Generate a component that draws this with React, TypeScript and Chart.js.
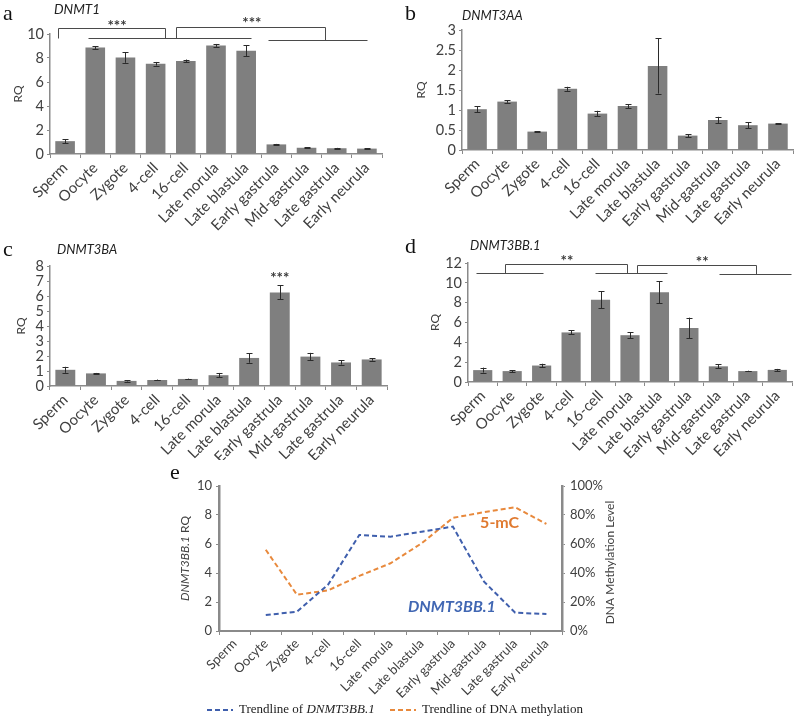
import React, { useEffect, useRef } from "react";
import { Chart, registerables } from "chart.js";
Chart.register(...registerables);

// ---------- data ----------
const stages = [
  "Sperm", "Oocyte", "Zygote", "4-cell", "16-cell", "Late morula",
  "Late blastula", "Early gastrula", "Mid-gastrula", "Late gastrula", "Early neurula",
];

const dnmt1Values = [1.07, 8.88, 8.05, 7.52, 7.75, 9.05, 8.6, 0.8, 0.52, 0.48, 0.45];
const dnmt1Errors = [0.18, 0.12, 0.45, 0.15, 0.12, 0.12, 0.45, 0.04, 0.05, 0.03, 0.02];

const dnmt3aaValues = [1.02, 1.21, 0.46, 1.53, 0.91, 1.1, 2.1, 0.36, 0.75, 0.62, 0.66];
const dnmt3aaErrors = [0.07, 0.03, 0.01, 0.05, 0.07, 0.05, 0.69, 0.04, 0.08, 0.08, 0.01];

const dnmt3baValues = [1.08, 0.84, 0.34, 0.4, 0.47, 0.72, 1.87, 6.24, 1.96, 1.57, 1.77];
const dnmt3baErrors = [0.2, 0.03, 0.04, 0.03, 0.02, 0.15, 0.32, 0.47, 0.25, 0.14, 0.08];

const dnmt3bb1Values = [1.2, 1.1, 1.66, 5.0, 8.3, 4.72, 9.05, 5.44, 1.58, 1.1, 1.22];
const dnmt3bb1Errors = [0.25, 0.1, 0.18, 0.2, 0.85, 0.28, 1.1, 1.05, 0.2, 0.04, 0.1];

const trendDnmt3bb1 = [null, 1.1, 1.33, 3.2, 6.62, 6.5, 6.85, 7.2, 3.4, 1.26, 1.17];
const trendMethylation = [null, 0.56, 0.25, 0.28, 0.38, 0.467, 0.605, 0.78, 0.82, 0.853, 0.738];

// ---------- styles ----------
const FONT = "Lato, 'Noto Sans', sans-serif";
const SERIF = "'Liberation Serif', 'DejaVu Serif', serif";
const AXIS = "#8a8a8a";
const TXT = "#404040";
const BAR = "#7f7f7f";
const BLUE = "#3F5FAD";
const ORANGE = "#E8893C";

type Seg = { x1: number; x2: number; y: number };
type Bracket = { left: number; right: number; top: number; leftBottom: number; rightBottom: number };
type Star = { x: number; y: number; text: string };

const crisp = (v: number) => Math.round(v) + 0.5;
const fmt = (v: any) => `${+Number(v).toFixed(2)}`;

function errorBarPlugin(errors: number[]) {
  return {
    id: "errbars",
    afterDatasetsDraw(chart: any) {
      const meta = chart.getDatasetMeta(0);
      const ys = chart.scales.y;
      const vals = chart.data.datasets[0].data as number[];
      const ctx = chart.ctx;
      ctx.save();
      ctx.strokeStyle = "#2b2b2b";
      ctx.lineWidth = 1;
      meta.data.forEach((el: any, i: number) => {
        const x = crisp(el.x);
        const top = ys.getPixelForValue(vals[i] + errors[i]);
        const bot = ys.getPixelForValue(Math.max(0, vals[i] - errors[i]));
        ctx.beginPath();
        ctx.moveTo(x, top);
        ctx.lineTo(x, bot);
        ctx.moveTo(x - 3, crisp(top));
        ctx.lineTo(x + 3, crisp(top));
        ctx.moveTo(x - 3, crisp(bot));
        ctx.lineTo(x + 3, crisp(bot));
        ctx.stroke();
      });
      ctx.restore();
    },
  };
}

function annotationPlugin(lines: Seg[], brackets: Bracket[], stars: Star[]) {
  return {
    id: "annot",
    afterDraw(chart: any) {
      const xs = chart.scales.x;
      const ys = chart.scales.y;
      const ctx = chart.ctx;
      const px = (v: number) => crisp(xs.getPixelForValue(v));
      const py = (v: number) => crisp(ys.getPixelForValue(v));
      ctx.save();
      ctx.strokeStyle = "#4a4a4a";
      ctx.lineWidth = 1;
      ctx.beginPath();
      lines.forEach((s) => {
        ctx.moveTo(px(s.x1), py(s.y));
        ctx.lineTo(px(s.x2), py(s.y));
      });
      brackets.forEach((b) => {
        ctx.moveTo(px(b.left), py(b.leftBottom));
        ctx.lineTo(px(b.left), py(b.top));
        ctx.lineTo(px(b.right), py(b.top));
        ctx.lineTo(px(b.right), py(b.rightBottom));
      });
      ctx.stroke();
      ctx.fillStyle = "#3a3a3a";
      ctx.font = `bold 15px ${FONT}`;
      ctx.textAlign = "center";
      ctx.textBaseline = "middle";
      stars.forEach((s) => {
        ctx.fillText(s.text, xs.getPixelForValue(s.x), ys.getPixelForValue(s.y) + 3);
      });
      ctx.restore();
    },
  };
}

type BarCfg = {
  width: number; height: number;
  left: number; top: number; right: number; bottom: number;
  yMax: number; yStep: number; titlePad: number;
};

function makeBarChart(
  canvas: HTMLCanvasElement, values: number[], errors: number[], cfg: BarCfg,
  lines: Seg[], brackets: Bracket[], stars: Star[],
) {
  return new Chart(canvas, {
    type: "bar",
    data: {
      labels: stages,
      datasets: [{
        data: values, backgroundColor: BAR, borderWidth: 0,
        barPercentage: 1, categoryPercentage: 0.65,
      }],
    },
    options: {
      responsive: false, maintainAspectRatio: false, animation: false,
      layout: { padding: { top: cfg.top, right: cfg.width - cfg.right, left: 0, bottom: 0 } },
      plugins: { legend: { display: false }, tooltip: { enabled: false } },
      scales: {
        x: {
          type: "category", offset: true,
          grid: { display: true, drawOnChartArea: false, drawTicks: true, tickLength: 4, color: AXIS, offset: true, lineWidth: 1 },
          border: { display: true, color: AXIS, width: 1.5 },
          ticks: { autoSkip: false, minRotation: 45, maxRotation: 45, padding: 1, color: TXT, font: { family: FONT, size: 15 } },
          afterFit: (s: any) => { s.height = cfg.height - cfg.bottom; },
        },
        y: {
          min: 0, max: cfg.yMax,
          ticks: { stepSize: cfg.yStep, autoSkip: false, padding: 3, color: TXT, font: { family: FONT, size: 14.5 }, callback: fmt },
          grid: { display: true, drawOnChartArea: false, drawTicks: true, tickLength: 3, color: AXIS },
          border: { display: true, color: AXIS, width: 1.5 },
          title: { display: true, text: "RQ", color: TXT, font: { family: FONT, size: 12 }, padding: { top: cfg.titlePad, bottom: 0 } },
          afterFit: (s: any) => { s.width = cfg.left; },
        },
      },
    } as any,
    plugins: [errorBarPlugin(errors), annotationPlugin(lines, brackets, stars)],
  });
}

const panelEPlugin = {
  id: "panelE",
  afterDraw(chart: any) {
    const ctx = chart.ctx;
    const xs = chart.scales.x;
    const ys = chart.scales.y;
    const ca = chart.chartArea;
    ctx.save();
    // in-chart labels
    ctx.textAlign = "center";
    ctx.textBaseline = "middle";
    ctx.fillStyle = "#E07A30";
    ctx.font = `bold 16px ${FONT}`;
    ctx.fillText("5-mC", xs.getPixelForValue(8.5), ys.getPixelForValue(7.45));
    ctx.fillStyle = "#4167B3";
    ctx.font = `italic bold 16px ${FONT}`;
    ctx.fillText("DNMT3BB.1", xs.getPixelForValue(6.97), ys.getPixelForValue(1.65));

    // left axis title (mixed style), reading bottom-to-top
    const cy = (ca.top + ca.bottom) / 2;
    ctx.save();
    ctx.translate(35, cy);
    ctx.rotate(-Math.PI / 2);
    ctx.fillStyle = TXT;
    ctx.textBaseline = "middle";
    const p1 = "DNMT3BB.1";
    const p2 = " RQ";
    ctx.font = `italic 12px ${FONT}`;
    const w1 = ctx.measureText(p1).width;
    ctx.font = `12px ${FONT}`;
    const w2 = ctx.measureText(p2).width;
    ctx.textAlign = "left";
    ctx.font = `italic 12px ${FONT}`;
    ctx.fillText(p1, -(w1 + w2) / 2, 0);
    ctx.font = `12px ${FONT}`;
    ctx.fillText(p2, -(w1 + w2) / 2 + w1, 0);
    ctx.restore();

    // right axis title, reading bottom-to-top
    ctx.save();
    ctx.translate(460, cy + 4);
    ctx.rotate(-Math.PI / 2);
    ctx.fillStyle = TXT;
    ctx.textAlign = "center";
    ctx.textBaseline = "middle";
    ctx.font = `12px ${FONT}`;
    ctx.fillText("DNA Methylation Level", 0, 0);
    ctx.restore();

    // legend
    const ly = 250;
    const drawItem = (x: number, color: string, parts: { t: string; italic: boolean }[]) => {
      ctx.strokeStyle = color;
      ctx.lineWidth = 2;
      ctx.setLineDash([5, 3]);
      ctx.beginPath();
      ctx.moveTo(x, ly);
      ctx.lineTo(x + 26, ly);
      ctx.stroke();
      ctx.setLineDash([]);
      let tx = x + 32;
      ctx.fillStyle = "#222";
      ctx.textAlign = "left";
      ctx.textBaseline = "middle";
      parts.forEach((p) => {
        ctx.font = `${p.italic ? "italic " : ""}13px ${SERIF}`;
        ctx.fillText(p.t, tx, ly);
        tx += ctx.measureText(p.t).width;
      });
    };
    drawItem(57, BLUE, [{ t: "Trendline of ", italic: false }, { t: "DNMT3BB.1", italic: true }]);
    drawItem(240, ORANGE, [{ t: "Trendline of DNA methylation", italic: false }]);
    ctx.restore();
  },
};

function makeLineChart(canvas: HTMLCanvasElement) {
  const W = 500, H = 257, L = 69, T = 26, R = 412, B = 171;
  return new Chart(canvas, {
    type: "line",
    data: {
      labels: stages,
      datasets: [
        { label: "Trendline of DNMT3BB.1", data: trendDnmt3bb1, yAxisID: "y", borderColor: BLUE, borderDash: [5, 3], borderWidth: 2, pointRadius: 0, fill: false, tension: 0 },
        { label: "Trendline of DNA methylation", data: trendMethylation, yAxisID: "y1", borderColor: ORANGE, borderDash: [5, 3], borderWidth: 2, pointRadius: 0, fill: false, tension: 0 },
      ],
    },
    options: {
      responsive: false, maintainAspectRatio: false, animation: false,
      layout: { padding: { top: T, right: 0, left: 0, bottom: 0 } },
      plugins: { legend: { display: false }, tooltip: { enabled: false } },
      scales: {
        x: {
          type: "category", offset: true,
          grid: { display: true, drawOnChartArea: false, drawTicks: true, tickLength: 4, color: AXIS, offset: true },
          border: { display: true, color: AXIS, width: 2 },
          ticks: { autoSkip: false, minRotation: 45, maxRotation: 45, padding: 1, color: TXT, font: { family: FONT, size: 13 } },
          afterFit: (s: any) => { s.height = H - B; },
        },
        y: {
          position: "left", min: 0, max: 10,
          ticks: { stepSize: 2, autoSkip: false, padding: 4, color: TXT, font: { family: FONT, size: 13 } },
          grid: { display: true, drawOnChartArea: false, drawTicks: true, tickLength: 3, color: AXIS },
          border: { display: true, color: AXIS, width: 2.5 },
          afterFit: (s: any) => { s.width = L; },
        },
        y1: {
          position: "right", min: 0, max: 1,
          ticks: { stepSize: 0.2, autoSkip: false, padding: 5, color: TXT, font: { family: FONT, size: 13 }, callback: (v: any) => `${Math.round(Number(v) * 100)}%` },
          grid: { display: true, drawOnChartArea: false, drawTicks: true, tickLength: 3, color: AXIS },
          border: { display: true, color: AXIS, width: 2.5 },
          afterFit: (s: any) => { s.width = W - R; },
        },
      },
    } as any,
    plugins: [panelEPlugin],
  });
}

// ---------- annotations ----------
const aLines: Seg[] = [{ x1: 0.76, x2: 6.16, y: 9.67 }, { x1: 6.72, x2: 10.0, y: 9.5 }];
const aBrackets: Bracket[] = [
  { left: -0.23, right: 3.31, top: 10.5, leftBottom: 9.67, rightBottom: 9.67 },
  { left: 3.67, right: 8.61, top: 10.62, leftBottom: 9.67, rightBottom: 9.5 },
];
const aStars: Star[] = [{ x: 1.72, y: 10.9, text: "***" }, { x: 6.19, y: 11.17, text: "***" }];

const cStars: Star[] = [{ x: 7, y: 7.37, text: "***" }];

const dLines: Seg[] = [
  { x1: -0.23, x2: 2.05, y: 11.0 },
  { x1: 3.81, x2: 6.26, y: 11.0 },
  { x1: 8.02, x2: 10.47, y: 10.9 },
];
const dBrackets: Bracket[] = [
  { left: 0.76, right: 4.9, top: 11.9, leftBottom: 11.0, rightBottom: 11.0 },
  { left: 5.24, right: 9.28, top: 11.8, leftBottom: 11.0, rightBottom: 10.9 },
];
const dStars: Star[] = [{ x: 2.86, y: 12.45, text: "**" }, { x: 7.45, y: 12.4, text: "**" }];

// ---------- components ----------
function Canvas({ left, top, width, height, build }: { left: number; top: number; width: number; height: number; build: (c: HTMLCanvasElement) => Chart }) {
  const ref = useRef<HTMLCanvasElement>(null);
  useEffect(() => {
    if (!ref.current) return;
    const ch = build(ref.current);
    return () => ch.destroy();
  }, []);
  return (
    <canvas
      ref={ref}
      width={width}
      height={height}
      style={{ position: "absolute", left, top, width, height }}
    />
  );
}

const letter = (t: string, left: number, top: number) => (
  <div style={{ position: "absolute", left, top, fontFamily: SERIF, fontSize: 22, color: "#111", lineHeight: 1 }}>{t}</div>
);
const gene = (t: string, left: number, top: number, size = 13) => (
  <div style={{ position: "absolute", left, top, fontFamily: FONT, fontStyle: "italic", fontSize: size, color: "#222", lineHeight: 1 }}>{t}</div>
);

export default function App() {
  return (
    <div style={{ position: "absolute", left: 0, top: 0, width: 800, height: 717, background: "#fff", overflow: "hidden" }}>
      <Canvas left={0} top={0} width={400} height={240}
        build={(c) => makeBarChart(c, dnmt1Values, dnmt1Errors,
          { width: 400, height: 240, left: 50, top: 34, right: 382, bottom: 154, yMax: 10, yStep: 2, titlePad: 11 },
          aLines, aBrackets, aStars)} />
      <Canvas left={400} top={0} width={400} height={240}
        build={(c) => makeBarChart(c, dnmt3aaValues, dnmt3aaErrors,
          { width: 400, height: 240, left: 62, top: 30, right: 393, bottom: 150, yMax: 3, yStep: 0.5, titlePad: 14 },
          [], [], [])} />
      <Canvas left={0} top={240} width={400} height={220}
        build={(c) => makeBarChart(c, dnmt3baValues, dnmt3baErrors,
          { width: 400, height: 220, left: 50, top: 26, right: 387, bottom: 146, yMax: 8, yStep: 1, titlePad: 14 },
          [], [], cStars)} />
      <Canvas left={400} top={240} width={400} height={220}
        build={(c) => makeBarChart(c, dnmt3bb1Values, dnmt3bb1Errors,
          { width: 400, height: 220, left: 68, top: 23, right: 392, bottom: 142, yMax: 12, yStep: 2, titlePad: 28 },
          dLines, dBrackets, dStars)} />
      <Canvas left={150} top={460} width={500} height={257} build={(c) => makeLineChart(c)} />

      {letter("a", 3, 2)}
      {gene("DNMT1", 54, 3, 13.5)}
      {letter("b", 405, 2)}
      {gene("DNMT3AA", 462, 9)}
      {letter("c", 3, 238)}
      {gene("DNMT3BA", 57, 243)}
      {letter("d", 405, 235)}
      {gene("DNMT3BB.1", 470, 239)}
      {letter("e", 170, 461)}
    </div>
  );
}
